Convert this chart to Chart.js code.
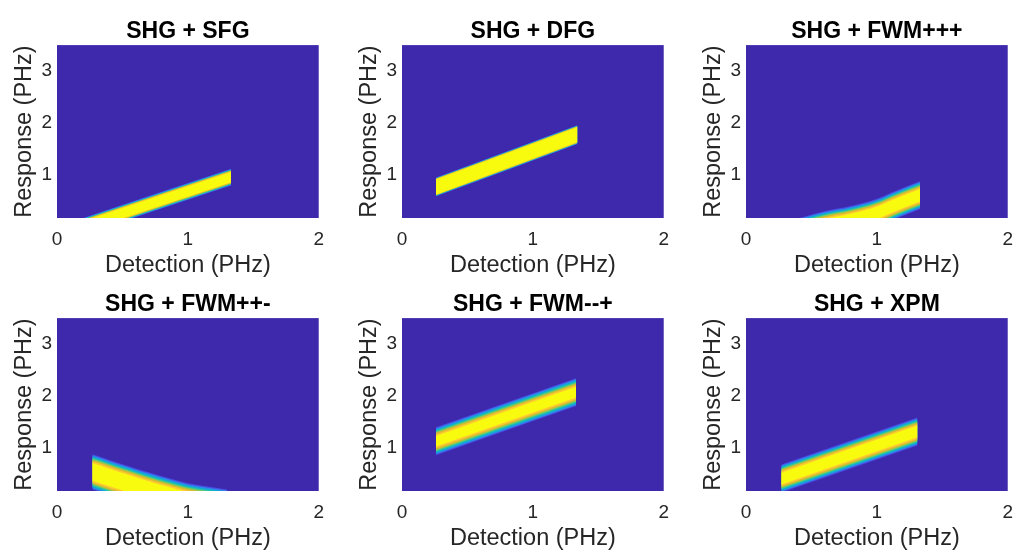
<!DOCTYPE html>
<html>
<head>
<meta charset="utf-8">
<script src="https://cdn.jsdelivr.net/npm/chart.js@4.4.1/dist/chart.umd.min.js"></script>
<style>
    html, body { margin: 0; padding: 0; background: #ffffff; }
    body { width: 1016px; height: 559px; position: relative; overflow: hidden; }
    .panel { position: absolute; width: 334px; height: 280px; }
</style>
</head>
<body>
<div class="panel" style="left:0px;top:0px"><canvas id="p0" width="334" height="280"></canvas></div>
<div class="panel" style="left:345px;top:0px"><canvas id="p1" width="334" height="280"></canvas></div>
<div class="panel" style="left:689px;top:0px"><canvas id="p2" width="334" height="280"></canvas></div>
<div class="panel" style="left:0px;top:273px"><canvas id="p3" width="334" height="280"></canvas></div>
<div class="panel" style="left:345px;top:273px"><canvas id="p4" width="334" height="280"></canvas></div>
<div class="panel" style="left:689px;top:273px"><canvas id="p5" width="334" height="280"></canvas></div>
<script>
const panelTitles = ['SHG + SFG', 'SHG + DFG', 'SHG + FWM+++', 'SHG + FWM++-', 'SHG + FWM--+', 'SHG + XPM'];
const detectionTicks = [0, 1, 2];
const responseTicks = [1, 2, 3];
const detectionRange = [0, 2];
const responseRange = [0.16, 3.5];

// ridge of the bright band in each panel: detection (PHz) -> response (PHz)
const sfgDetection = [0.2, 1.33];
const sfgResponse = [0.0, 0.95];
const dfgDetection = [0.26, 1.34];
const dfgResponse = [0.76, 1.77];
const fwmPPPDetection = [0.2, 0.45, 0.6, 0.8, 1.0, 1.15, 1.33];
const fwmPPPResponse = [-0.25, -0.08, 0.02, 0.12, 0.26, 0.42, 0.6];
const fwmPPMDetection = [0.27, 0.4, 0.55, 0.7, 0.85, 1.0, 1.3];
const fwmPPMResponse = [0.53, 0.42, 0.3, 0.18, 0.07, -0.03, -0.15];
const fwmMMPDetection = [0.26, 1.33];
const fwmMMPResponse = [1.12, 2.07];
const xpmDetection = [0.27, 1.31];
const xpmResponse = [0.4, 1.31];
// half width of the band (PHz) in each panel
const bandHalfWidth = [0.16, 0.18, 0.27, 0.34, 0.27, 0.27];

const bandDetection = [sfgDetection, dfgDetection, fwmPPPDetection, fwmPPMDetection, fwmMMPDetection, xpmDetection];
const bandResponse = [sfgResponse, dfgResponse, fwmPPPResponse, fwmPPMResponse, fwmMMPResponse, xpmResponse];

// parula-like shading from the band edge to its core
const baseColor = '#3e28ab';
const layerColors = ['#4750e6', '#2a8ee8', '#0bb1d0', '#2ec4a0', '#80cc59', '#d2bb30', '#fcc832', '#f9fb0e'];
const layerSpread = [1, 0.86, 0.72, 0.6, 0.48, 0.36, 0.2, 0];
const coreFraction = [0.62, 0.8, 0.45, 0.5, 0.38, 0.42];

const FONT = "'Liberation Sans', Arial, Helvetica, sans-serif";
const TEXT = '#262626';

const plotBackground = {
    id: 'plotBackground',
    beforeDatasetsDraw(chart) {
        const { ctx, chartArea: a } = chart;
        ctx.save();
        ctx.fillStyle = baseColor;
        ctx.fillRect(a.left, a.top, a.width, a.height);
        ctx.restore();
    }
};

function bandDatasets(i) {
    const det = bandDetection[i];
    const resp = bandResponse[i];
    const hw = bandHalfWidth[i];
    const core = coreFraction[i];
    const sets = [];
    // innermost layer first so it is drawn on top
    for (let k = layerColors.length - 1; k >= 0; k--) {
        const half = hw * (core + (1 - core) * layerSpread[k]);
        const common = {
            borderWidth: 0,
            borderColor: 'rgba(0,0,0,0)',
            pointRadius: 0,
            cubicInterpolationMode: 'monotone'
        };
        sets.push({
            ...common,
            data: det.map((x, j) => ({ x: x, y: resp[j] + half })),
            backgroundColor: layerColors[k],
            fill: '+1'
        });
        sets.push({
            ...common,
            data: det.map((x, j) => ({ x: x, y: resp[j] - half })),
            backgroundColor: layerColors[k],
            fill: false
        });
    }
    return sets;
}

function renderPanel(i) {
    const ctx = document.getElementById('p' + i).getContext('2d');
    new Chart(ctx, {
        type: 'line',
        data: { datasets: bandDatasets(i) },
        options: {
            responsive: false,
            animation: false,
            events: [],
            layout: { padding: { left: 0, right: 2, top: 0, bottom: 0 } },
            plugins: {
                legend: { display: false },
                tooltip: { enabled: false },
                title: {
                    display: true,
                    fullSize: false,
                    text: panelTitles[i],
                    color: '#000000',
                    font: { family: FONT, size: 23, weight: 'bold', lineHeight: 1.2 },
                    padding: { top: 17.5, bottom: 0 }
                }
            },
            scales: {
                x: {
                    type: 'linear',
                    min: detectionRange[0],
                    max: detectionRange[1],
                    afterBuildTicks: s => { s.ticks = detectionTicks.map(v => ({ value: v })); },
                    afterFit: s => { s.height = 62; },
                    grid: { display: false, drawTicks: false },
                    border: { display: false },
                    ticks: { color: TEXT, padding: 10, font: { family: FONT, size: 19 } },
                    title: {
                        display: true,
                        text: 'Detection (PHz)',
                        color: TEXT,
                        font: { family: FONT, size: 23.5 },
                        padding: { top: 0, bottom: 0 }
                    }
                },
                y: {
                    type: 'linear',
                    min: responseRange[0],
                    max: responseRange[1],
                    afterBuildTicks: s => { s.ticks = responseTicks.map(v => ({ value: v })); },
                    afterFit: s => { s.width = 57; },
                    grid: { display: false, drawTicks: false },
                    border: { display: false },
                    ticks: { color: TEXT, padding: 5, font: { family: FONT, size: 19 } },
                    title: {
                        display: true,
                        text: 'Response (PHz)',
                        color: TEXT,
                        font: { family: FONT, size: 23.5 },
                        padding: { top: 10, bottom: 0 }
                    }
                }
            }
        },
        plugins: [plotBackground]
    });
}

for (let i = 0; i < panelTitles.length; i++) {
    renderPanel(i);
}
</script>
</body>
</html>
